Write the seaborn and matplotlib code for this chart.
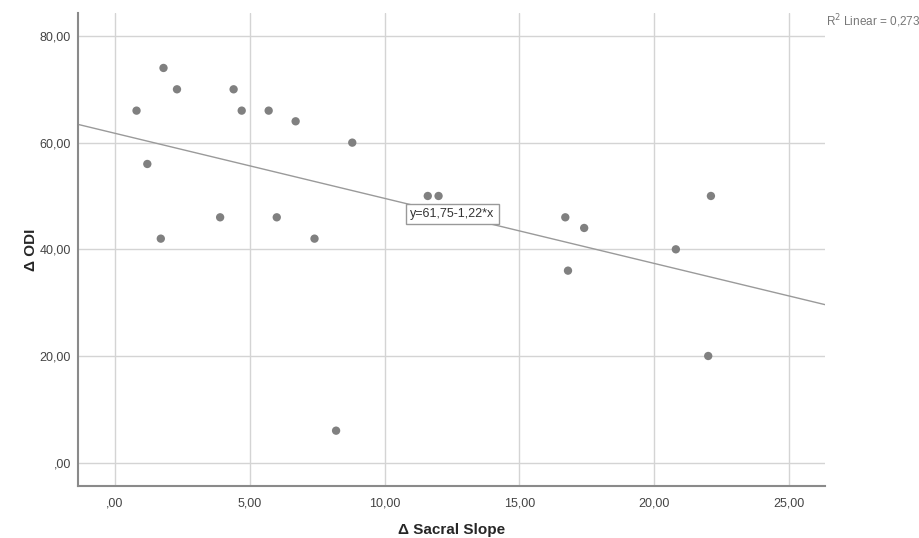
import numpy as np
import matplotlib
matplotlib.use("Agg")
import matplotlib.pyplot as plt
import seaborn as sns
import pandas as pd

# values
sacral_slope = [0.8, 1.2, 1.8, 1.7, 2.3, 3.9, 4.4, 4.7, 5.7, 6.0, 6.7,
                7.4, 8.2, 8.8, 11.6, 12.0, 16.7, 16.8, 17.4, 20.8, 22.1, 22.0]
odi = [66, 56, 74, 42, 70, 46, 70, 66, 66, 46, 64,
       42, 6, 60, 50, 50, 46, 36, 44, 40, 50, 20]

# fit line as printed on the chart
intercept = 61.75
slope = -1.22
r_squared = 0.273

x_ticks = [0, 5, 10, 15, 20, 25]
x_labels = [",00", "5,00", "10,00", "15,00", "20,00", "25,00"]
y_ticks = [0, 20, 40, 60, 80]
y_labels = [",00", "20,00", "40,00", "60,00", "80,00"]

df = pd.DataFrame({"ss": sacral_slope, "odi": odi})

sns.set_style("white")
plt.rcParams["font.family"] = ["Liberation Sans", "DejaVu Sans"]

fig = plt.figure(figsize=(9.19, 5.38), dpi=100)
ax = fig.add_axes([0.0846, 0.0967, 0.8131, 0.8786])

xlim = (-1.38, 26.33)
ylim = (-4.37, 84.25)

ax.grid(True, color="#d4d4d4", linewidth=1.0)
ax.set_axisbelow(True)

sns.scatterplot(data=df, x="ss", y="odi", ax=ax, s=36, color="#808080",
                edgecolor="none", zorder=3)

xs = np.array(xlim)
ax.plot(xs, intercept + slope * xs, color="#9a9a9a", linewidth=1.0, zorder=2)

ax.set_xlim(xlim)
ax.set_ylim(ylim)
ax.set_xticks(x_ticks)
ax.set_xticklabels(x_labels)
ax.set_yticks(y_ticks)
ax.set_yticklabels(y_labels)
ax.tick_params(axis="both", length=0, labelsize=9, labelcolor="#444444")
ax.tick_params(axis="x", pad=8)
ax.tick_params(axis="y", pad=5)

for side in ["top", "right"]:
    ax.spines[side].set_visible(False)
for side in ["left", "bottom"]:
    ax.spines[side].set_color("#8a8a8a")
    ax.spines[side].set_linewidth(1.5)

ax.set_xlabel("\u0394 Sacral Slope", fontsize=11, fontweight="bold", labelpad=10)
ax.set_ylabel("\u0394 ODI", fontsize=11, fontweight="bold", labelpad=1)

eq = "y=" + f"{intercept:.2f}".replace(".", ",") + "-" + f"{abs(slope):.2f}".replace(".", ",") + "*x"
ax.text(12.5, 46.6, eq, fontsize=9, color="#333333", ha="center", va="center",
        zorder=4, bbox=dict(boxstyle="square,pad=0.35", facecolor="white",
                            edgecolor="#999999", linewidth=1.0))

fig.text(826 / 919, 1 - 21 / 538, "R$^2$ Linear = " + f"{r_squared:.3f}".replace(".", ","),
         fontsize=8.5, color="#777777", ha="left", va="center")

fig.savefig("out.png", dpi=100)
